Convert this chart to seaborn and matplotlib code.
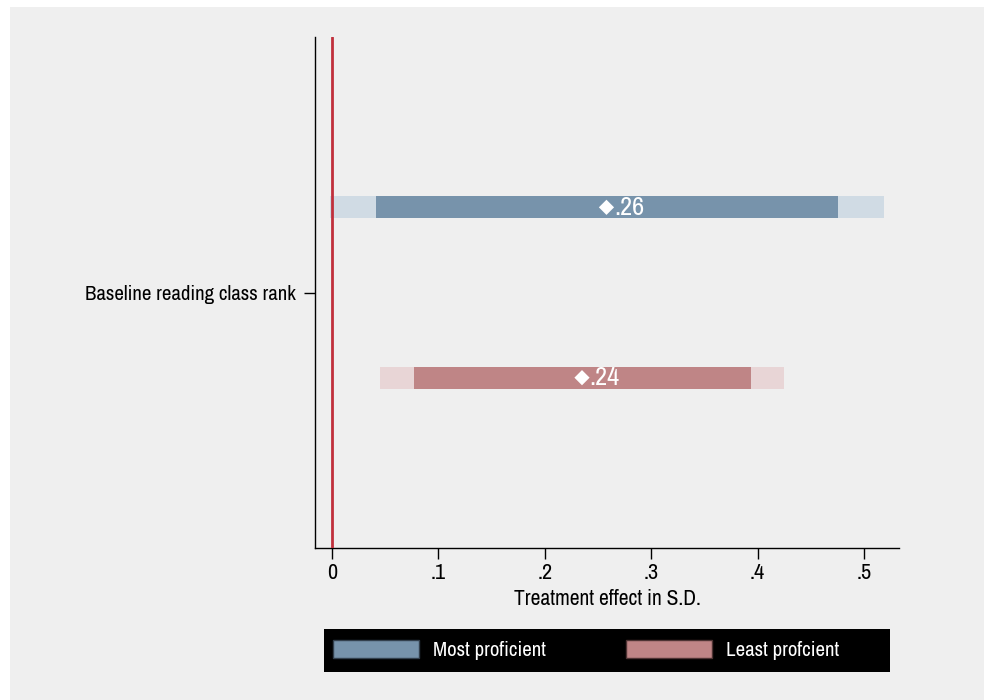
import matplotlib
matplotlib.use("Agg")
import matplotlib.pyplot as plt
from matplotlib import font_manager
from matplotlib.patches import Patch, Rectangle
import seaborn as sns
import pandas as pd

# Estimates by baseline proficiency group
groups = ["Most proficient", "Least profcient"]
coef = [0.258, 0.235]
coef_labels = [".26", ".24"]
ci95_lo = [-0.002, 0.045]
ci95_hi = [0.519, 0.425]
ci90_lo = [0.041, 0.077]
ci90_hi = [0.476, 0.394]
ypos = [0.5, -0.5]
row_label = "Baseline reading class rank"
xticks = [0, 0.1, 0.2, 0.3, 0.4, 0.5]
xticklabels = ["0", ".1", ".2", ".3", ".4", ".5"]

dark_cols = ["#7793ab", "#bf8586"]
light_cols = ["#d0dbe4", "#e8d5d6"]
bg = "#efefef"


def pick_narrow_font():
    """Return (family, stretch) for a narrow sans face if one is installed."""
    entries = font_manager.fontManager.ttflist
    for e in entries:
        n = e.name.lower()
        if ("narrow" in n or "condensed" in n) and "mono" not in n and "serif" not in n.replace("sans", ""):
            return e.name, "normal"
    for e in entries:
        if str(e.stretch) in ("condensed", "semi-condensed") and "mono" not in e.name.lower():
            return e.name, "condensed"
    return "Roboto", "normal"


font_family, font_stretch = pick_narrow_font()

sns.set_theme(style="ticks")
plt.rcParams["font.family"] = [font_family, "DejaVu Sans"]
plt.rcParams["font.stretch"] = font_stretch
plt.rcParams["text.color"] = "black"
plt.rcParams["axes.labelcolor"] = "black"
plt.rcParams["xtick.color"] = "black"
plt.rcParams["ytick.color"] = "black"

df = pd.DataFrame({"group": groups, "coef": coef, "y": ypos,
                   "lo95": ci95_lo, "hi95": ci95_hi,
                   "lo90": ci90_lo, "hi90": ci90_hi})

fig = plt.figure(figsize=(9.84, 7.0), dpi=100, facecolor="white")
fig.patches.append(Rectangle((10 / 984, 0), 1, 693 / 700, transform=fig.transFigure,
                             facecolor=bg, edgecolor="none", zorder=-10))
ax = fig.add_axes([315 / 984, 1 - 548 / 700, 584 / 984, 511 / 700])
ax.set_facecolor(bg)

h = 0.13
for i, r in df.iterrows():
    ax.barh(r["y"], r["hi95"] - r["lo95"], left=r["lo95"], height=h,
            color=light_cols[i], edgecolor="none", zorder=2)
    ax.barh(r["y"], r["hi90"] - r["lo90"], left=r["lo90"], height=h,
            color=dark_cols[i], edgecolor="none", zorder=3)

sns.scatterplot(data=df, x="coef", y="y", marker="D", s=60, color="white",
                edgecolor="none", ax=ax, zorder=5, legend=False)
for i, r in df.iterrows():
    ax.text(r["coef"] + 0.007, r["y"], coef_labels[i], color="white",
            fontsize=19, va="center", ha="left", zorder=6)

ax.axvline(0, color="#c0303c", lw=2, zorder=4)

ax.set_xlim(-0.016, 0.533)
ax.set_ylim(-1.5, 1.5)
ax.set_xticks(xticks)
ax.set_xticklabels(xticklabels, fontsize=16)
ax.set_yticks([0])
ax.set_yticklabels([row_label], fontsize=15)
ax.set_xlabel("Treatment effect in S.D.", fontsize=15.5, labelpad=4)
ax.set_ylabel("")
ax.tick_params(axis="both", length=8, width=1, color="black", pad=3)
ax.tick_params(axis="y", pad=6)
for s in ["top", "right"]:
    ax.spines[s].set_visible(False)
for s in ["left", "bottom"]:
    ax.spines[s].set_color("black")
    ax.spines[s].set_linewidth(1)

# Legend: black band with two coloured keys
fig.patches.append(Rectangle((324 / 984, 1 - 672 / 700), 566 / 984, 43 / 700,
                             transform=fig.transFigure, facecolor="black",
                             edgecolor="none", zorder=1))
handles = [Patch(facecolor=dark_cols[0], edgecolor="#33404d", label=groups[0]),
           Patch(facecolor=dark_cols[1], edgecolor="#4d3333", label=groups[1])]
leg = fig.legend(handles=handles, ncol=2, loc="center left",
                 bbox_to_anchor=(333 / 984, 1 - 650 / 700),
                 frameon=False, fontsize=15, handlelength=4.13, handleheight=1.0,
                 handletextpad=0.67, columnspacing=3.85, borderpad=0, borderaxespad=0)
for t in leg.get_texts():
    t.set_color("white")

fig.savefig("out.png", dpi=100, facecolor="white")
